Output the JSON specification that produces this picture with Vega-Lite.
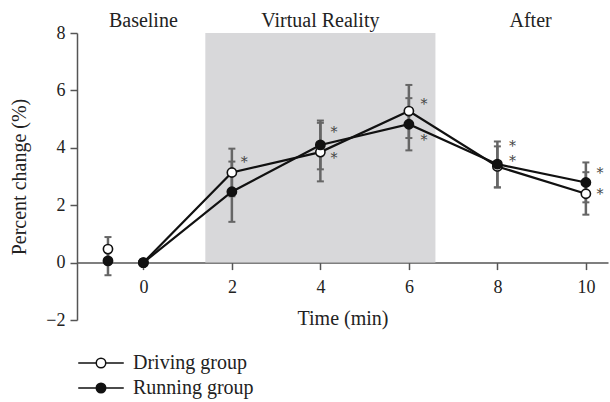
{
  "$schema": "https://vega.github.io/schema/vega-lite/v6.json",
  "width": 531,
  "height": 287,
  "autosize": {"type": "none"},
  "padding": {"left": 77, "top": 33, "right": 2, "bottom": 82},
  "background": "white",
  "config": {
    "view": {"stroke": null},
    "font": "Liberation Serif",
    "axis": {
      "grid": false,
      "domainColor": "#555555",
      "domainWidth": 1.5,
      "tickColor": "#555555",
      "tickWidth": 1.5,
      "labelColor": "#222222",
      "titleColor": "#222222",
      "labelFont": "Liberation Serif",
      "titleFont": "Liberation Serif",
      "labelFontSize": 18,
      "titleFontSize": 20,
      "titleFontWeight": "normal"
    }
  },
  "datasets": {
    "main": [
      {"group": "Driving group", "time": -0.8, "mean": 0.47, "lo": 0.05, "hi": 0.89},
      {"group": "Driving group", "time": 0, "mean": 0, "lo": null, "hi": null},
      {"group": "Driving group", "time": 2, "mean": 3.14, "lo": 2.31, "hi": 3.97},
      {"group": "Driving group", "time": 4, "mean": 3.85, "lo": 2.83, "hi": 4.87},
      {"group": "Driving group", "time": 6, "mean": 5.28, "lo": 4.34, "hi": 6.19},
      {"group": "Driving group", "time": 8, "mean": 3.35, "lo": 2.62, "hi": 4.05},
      {"group": "Driving group", "time": 10, "mean": 2.4, "lo": 1.67, "hi": 3.15},
      {"group": "Running group", "time": -0.8, "mean": 0.06, "lo": -0.44, "hi": 0.56},
      {"group": "Running group", "time": 0, "mean": 0, "lo": null, "hi": null},
      {"group": "Running group", "time": 2, "mean": 2.47, "lo": 1.42, "hi": 3.52},
      {"group": "Running group", "time": 4, "mean": 4.1, "lo": 3.25, "hi": 4.95},
      {"group": "Running group", "time": 6, "mean": 4.82, "lo": 3.91, "hi": 5.73},
      {"group": "Running group", "time": 8, "mean": 3.43, "lo": 2.62, "hi": 4.22},
      {"group": "Running group", "time": 10, "mean": 2.79, "lo": 2.1, "hi": 3.49}
    ],
    "stars": [
      {"time": 2.28, "value": 3.56},
      {"time": 4.31, "value": 4.63},
      {"time": 4.31, "value": 3.7},
      {"time": 6.34, "value": 5.61},
      {"time": 6.34, "value": 4.34},
      {"time": 8.34, "value": 4.14},
      {"time": 8.34, "value": 3.61},
      {"time": 10.32, "value": 3.18},
      {"time": 10.32, "value": 2.45}
    ],
    "headers": [
      {"label": "Baseline", "time": 0},
      {"label": "Virtual Reality", "time": 4},
      {"label": "After", "time": 8.75}
    ],
    "shade": [
      {"start": 1.4, "end": 6.6, "low": 0, "high": 8}
    ]
  },
  "layer": [
    {
      "data": {"name": "shade"},
      "mark": {"type": "rect", "color": "#d8d8da"},
      "encoding": {
        "x": {"field": "start", "type": "quantitative", "scale": {"domain": [-1.5, 10.5], "nice": false, "zero": false},
          "axis": {"values": [0, 2, 4, 6, 8, 10], "title": "Time (min)", "offset": -57.4, "tickSize": 7, "labelPadding": 9, "titlePadding": 12}},
        "x2": {"field": "end"},
        "y": {"field": "low", "type": "quantitative", "scale": {"domain": [-2, 8], "nice": false, "zero": false},
          "axis": {"values": [-2, 0, 2, 4, 6, 8], "title": "Percent change (%)", "tickSize": 7, "labelPadding": 5, "titlePadding": 16}},
        "y2": {"field": "high"}
      }
    },
    {
      "data": {"name": "headers"},
      "mark": {"type": "text", "fontSize": 20, "color": "#222222", "baseline": "alphabetic", "dy": -6, "font": "Liberation Serif"},
      "encoding": {
        "x": {"field": "time", "type": "quantitative"},
        "y": {"datum": 8, "type": "quantitative"},
        "text": {"field": "label"}
      }
    },
    {
      "data": {"name": "main"},
      "transform": [{"filter": "isValid(datum.lo)"}],
      "mark": {"type": "rule", "color": "#666666", "strokeWidth": 2.5},
      "encoding": {
        "x": {"field": "time", "type": "quantitative"},
        "y": {"field": "lo", "type": "quantitative"},
        "y2": {"field": "hi"}
      }
    },
    {
      "data": {"name": "main"},
      "transform": [{"filter": "isValid(datum.lo)"}],
      "mark": {"type": "tick", "orient": "horizontal", "color": "#666666", "size": 7, "thickness": 2, "opacity": 1},
      "encoding": {
        "x": {"field": "time", "type": "quantitative"},
        "y": {"field": "lo", "type": "quantitative"}
      }
    },
    {
      "data": {"name": "main"},
      "transform": [{"filter": "isValid(datum.hi)"}],
      "mark": {"type": "tick", "orient": "horizontal", "color": "#666666", "size": 7, "thickness": 2, "opacity": 1},
      "encoding": {
        "x": {"field": "time", "type": "quantitative"},
        "y": {"field": "hi", "type": "quantitative"}
      }
    },
    {
      "data": {"name": "main"},
      "transform": [{"filter": "datum.time >= 0"}],
      "mark": {"type": "line", "color": "#111111", "strokeWidth": 2.2},
      "encoding": {
        "x": {"field": "time", "type": "quantitative"},
        "y": {"field": "mean", "type": "quantitative"},
        "detail": {"field": "group"}
      }
    },
    {
      "data": {"name": "main"},
      "mark": {"type": "circle", "size": 85, "stroke": "#111111", "strokeWidth": 1.6, "opacity": 1},
      "encoding": {
        "x": {"field": "time", "type": "quantitative"},
        "y": {"field": "mean", "type": "quantitative"},
        "fill": {
          "field": "group", "type": "nominal",
          "scale": {"domain": ["Driving group", "Running group"], "range": ["#ffffff", "#111111"]},
          "legend": {
            "title": null,
            "orient": "none",
            "legendX": 14,
            "legendY": 320,
            "padding": 0,
            "symbolType": "M-4.8,0H-1M1,0H4.8M1,0A1,1,0,1,1,-1,0A1,1,0,1,1,1,0Z",
            "symbolSize": 90,
            "symbolStrokeColor": "#111111",
            "symbolStrokeWidth": 1.5,
            "symbolOpacity": 1,
            "labelFont": "Liberation Serif",
            "labelFontSize": 20,
            "labelColor": "#222222",
            "labelOffset": 22,
            "rowPadding": 5
          }
        }
      }
    },
    {
      "data": {"name": "stars"},
      "mark": {"type": "text", "text": "*", "fontSize": 14, "color": "#444444", "baseline": "middle", "dy": 3, "font": "DejaVu Serif"},
      "encoding": {
        "x": {"field": "time", "type": "quantitative"},
        "y": {"field": "value", "type": "quantitative"}
      }
    }
  ]
}
